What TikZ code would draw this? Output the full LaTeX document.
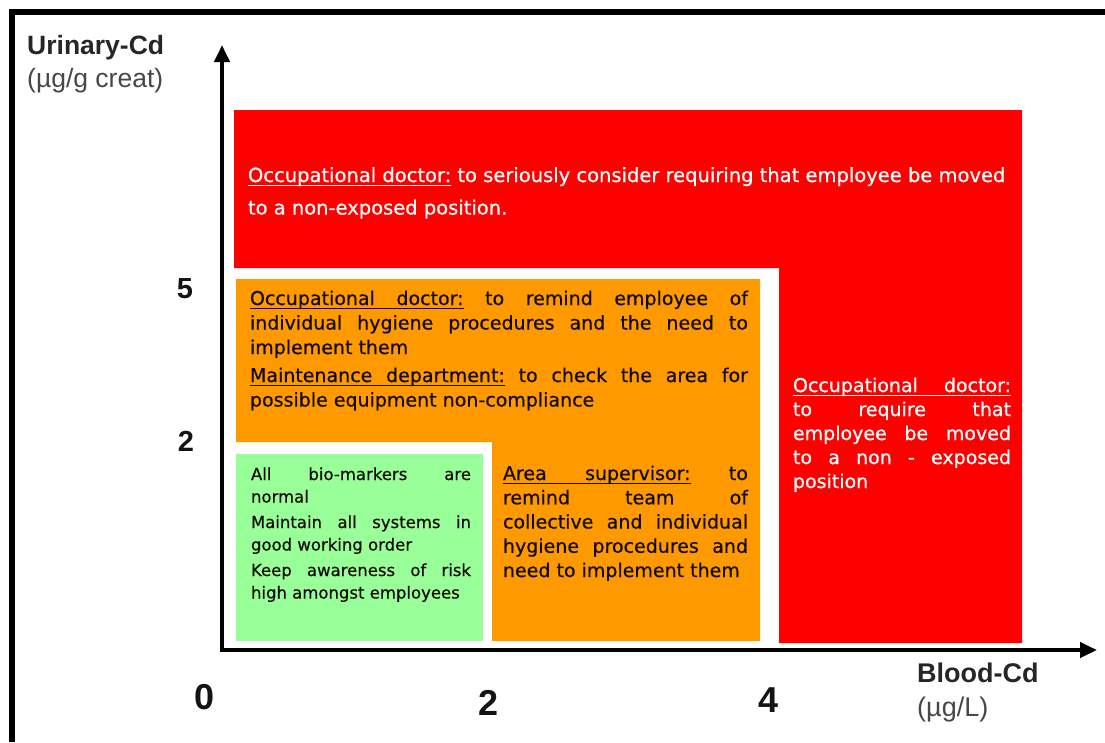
\documentclass[tikz,border=0pt]{standalone}
\usepackage{fontspec}
\usetikzlibrary{arrows.meta}
\newfontfamily\axisfont{Liberation Sans}
\newfontfamily\boxfont{DejaVu Sans}[FakeBold=0.6]
\definecolor{cdred}{HTML}{FF0000}
\definecolor{cdorange}{HTML}{FF9900}
\definecolor{cdgreen}{HTML}{99FF99}
\definecolor{labelgray}{HTML}{262626}
\definecolor{unitgray}{HTML}{474747}
\definecolor{inkdark}{HTML}{140C04}
% underlined word and underlined (stretchable) space
\newcommand\ulw[1]{\leavevmode\setbox0\hbox{#1}\rlap{\vrule height -2.6pt depth 3.9pt width \wd0}\box0\relax}
\newcommand\ulsp{\leavevmode\leaders\hrule height -2.6pt depth 3.9pt\hskip\fontdimen2\font plus\fontdimen3\font minus\fontdimen4\font\relax}
% #1 width, #2 font size, #3 baselineskip, #4 parskip, #5 text
\newcommand\zonepar[5]{\parbox[t]{#1}{\boxfont\fontsize{#2}{#3}\selectfont
  \tolerance=10000 \hbadness=10000 \hyphenpenalty=10000 \exhyphenpenalty=10000
  \parskip=#4\relax #5}}
\tikzset{
  zonetext/.style={anchor=base west, inner sep=0pt, outer sep=0pt},
  axislabel/.style={anchor=west, inner sep=0pt, font=\axisfont\fontsize{26.5}{30}\selectfont},
  ticklabel/.style={inner sep=0pt, text=black!92, font=\axisfont\bfseries\fontsize{#1}{#1}\selectfont},
  axisline/.style={line width=4pt, -{Triangle[length=17pt,width=15pt]}},
}
\begin{document}
\begin{tikzpicture}[x=1pt, y=-1pt]
\useasboundingbox (0,0) rectangle (1105,742);
% frame (top and left edges)
\draw[line width=6pt] (12,742) -- (12,12) -- (1105,12);
% zones
\fill[cdred] (234,110) -- (1022,110) -- (1022,643) -- (779,643) -- (779,268) -- (234,268) -- cycle;
\fill[cdorange] (236,279) -- (760,279) -- (760,641) -- (492,641) -- (492,442) -- (236,442) -- cycle;
\fill[cdgreen] (236,454) rectangle (483,641);
% axes
\coordinate (origin) at (222,650);
\coordinate (ytip) at (222,45);
\coordinate (xtip) at (1097,650);
\draw[axisline] (222,652) -- (ytip);
\draw[axisline] (220,650) -- (xtip);
% axis titles
\node[axislabel, text=labelgray, font=\axisfont\bfseries\fontsize{26.5}{30}\selectfont] (ytitle) at (27,48) {Urinary-Cd};
\node[axislabel, text=unitgray] (yunit) at (27,81) {(µg/g creat)};
\node[axislabel, text=labelgray, font=\axisfont\bfseries\fontsize{27}{30}\selectfont] (xtitle) at (917,673) {Blood-Cd};
\node[axislabel, text=unitgray, font=\axisfont\fontsize{27}{30}\selectfont] (xunit) at (917,710) {(µg/L)};
% tick labels
\node[ticklabel=29] (y5) at (185,289) {5};
\node[ticklabel=29] (y2) at (186,441) {2};
\node[ticklabel=36] (x0) at (205,697) {0};
\node[ticklabel=36] (x2) at (489,703) {2};
\node[ticklabel=36] (x4) at (768,700) {4};
% zone texts
\node[zonetext, text=white] (toptext) at (248,182)
  {\zonepar{790pt}{19.5}{32.5}{0pt}{\ulw{Occupational}\ulsp\ulw{doctor:} to seriously consider requiring that employee be moved\newline to a non-exposed position.}};
\node[zonetext, text=white] (righttext) at (793,392)
  {\zonepar{218pt}{19}{24}{0pt}{\ulw{Occupational}\ulsp\ulw{doctor:}\linebreak to require that\linebreak employee be moved\linebreak to a non - exposed\linebreak position}};
\node[zonetext, text=inkdark] (orangetop) at (250,305)
  {\zonepar{498pt}{19}{24.5}{3.5pt}{\ulw{Occupational}\ulsp\ulw{doctor:} to remind employee of\linebreak individual hygiene procedures and the need to\linebreak implement them\par
  \ulw{Maintenance}\ulsp\ulw{department:} to check the area for\linebreak possible equipment non-compliance}};
\node[zonetext, text=inkdark] (orangelow) at (503,480)
  {\zonepar{245pt}{19}{24.25}{0pt}{\ulw{Area}\ulsp\ulw{supervisor:} to\linebreak remind team of\linebreak collective and individual\linebreak hygiene procedures and\linebreak need to implement them}};
\node[zonetext, text=inkdark] (greentext) at (251,480)
  {\zonepar{220pt}{16.5}{22.5}{3pt}{All bio-markers are\linebreak normal\par
  Maintain all systems in\linebreak good working order\par
  Keep awareness of risk\linebreak high amongst employees}};
\end{tikzpicture}
\end{document}
